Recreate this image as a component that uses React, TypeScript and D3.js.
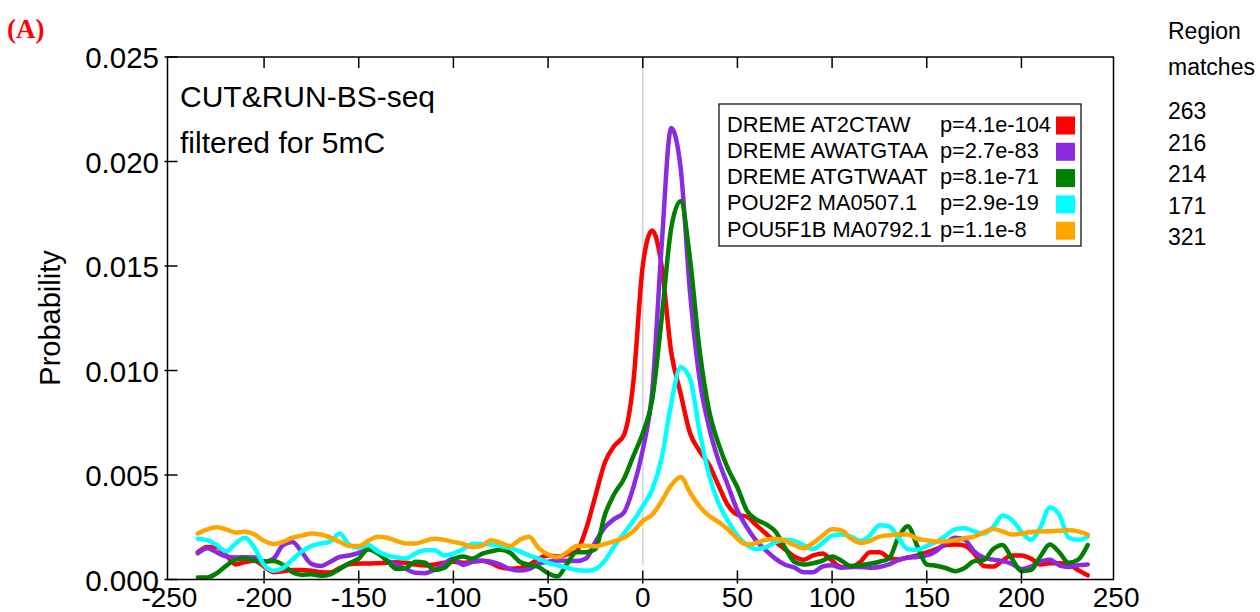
import React from 'react';
import * as d3 from 'd3';

// Distance from motif site (bp) at which each profile is sampled
const positions = [
  -235, -230, -225, -220, -215, -210, -205, -200, -195, -190,
  -185, -180, -175, -170, -165, -160, -155, -150, -145, -140,
  -135, -130, -125, -120, -115, -110, -105, -100, -95, -90,
  -85, -80, -75, -70, -65, -60, -55, -50, -45, -40,
  -35, -30, -25, -20, -15, -10, -5, 0, 5, 10,
  15, 20, 25, 30, 35, 40, 45, 50, 55, 60,
  65, 70, 75, 80, 85, 90, 95, 100, 105, 110,
  115, 120, 125, 130, 135, 140, 145, 150, 155, 160,
  165, 170, 175, 180, 185, 190, 195, 200, 205, 210,
  215, 220, 225, 230, 235,
];

const redSeries = [
  0.0013, 0.00155, 0.00155, 0.00115, 0.00072, 0.00083, 0.0009, 0.00062, 0.00035, 0.0004,
  0.00045, 0.00045, 0.00042, 0.00035, 0.00033, 0.00055, 0.00073, 0.00076, 0.00076, 0.00078,
  0.0008, 0.00082, 0.0008, 0.00072, 0.00067, 0.00072, 0.0008, 0.00085, 0.0008, 0.00085,
  0.0009, 0.00078, 0.00058, 0.00052, 0.00055, 0.0007, 0.001, 0.00115, 0.0011, 0.0012,
  0.00135, 0.0024, 0.004, 0.0056, 0.0064, 0.0069, 0.0094, 0.015, 0.0167, 0.015,
  0.0109, 0.0089, 0.007, 0.00615, 0.0055, 0.0045, 0.00355, 0.0031, 0.003, 0.0026,
  0.0022, 0.0018, 0.00145, 0.0011, 0.00095, 0.00115, 0.00125, 0.0009, 0.0006, 0.0006,
  0.00085, 0.0013, 0.0013, 0.00105, 0.00096, 0.00105, 0.00115, 0.0013, 0.00145, 0.00165,
  0.00168, 0.00162, 0.00125, 0.00065, 0.00062, 0.0009, 0.00115, 0.00115, 0.001, 0.00072,
  0.00078, 0.00078, 0.00072, 0.00045, 0.0002,
];

const purpleSeries = [
  0.00125, 0.0015, 0.0013, 0.0011, 0.00105, 0.00107, 0.00105, 0.00085, 0.001, 0.00165,
  0.0018, 0.0013, 0.00075, 0.00065, 0.00085, 0.00108, 0.00115, 0.00127, 0.00145, 0.0013,
  0.0009, 0.0007, 0.0005, 0.00032, 0.0003, 0.00048, 0.00075, 0.001, 0.0007, 0.00085,
  0.0009, 0.00085, 0.0007, 0.0005, 0.00043, 0.0005, 0.00075, 0.00085, 0.00091, 0.0009,
  0.00088, 0.001, 0.0018, 0.0025, 0.0029, 0.0032, 0.0044, 0.0062, 0.009, 0.016,
  0.0216, 0.0197, 0.0137, 0.0096, 0.0073, 0.0057, 0.0045, 0.0033, 0.0025, 0.00185,
  0.0014, 0.001, 0.00072, 0.00058, 0.00035, 0.00035, 0.00062, 0.00068, 0.00056, 0.0006,
  0.0006, 0.00056, 0.0006, 0.00072, 0.00093, 0.00105, 0.00108, 0.00115, 0.00136, 0.00175,
  0.002, 0.0019, 0.00135, 0.00105, 0.00095, 0.00088, 0.00075, 0.0005, 0.00062, 0.00085,
  0.00095, 0.00068, 0.0006, 0.00068, 0.00072,
];

const greenSeries = [
  0.0001, 0.0001, 0.0003, 0.00065, 0.00095, 0.001, 0.0009, 0.00086, 0.00088, 0.0007,
  0.00035, 0.00022, 0.00025, 0.00018, 0.00025, 0.0005, 0.00078, 0.001, 0.00145, 0.00125,
  0.0009, 0.0005, 0.00055, 0.00085, 0.0008, 0.00045, 0.00055, 0.00095, 0.0011, 0.001,
  0.00123, 0.00135, 0.00142, 0.00128, 0.00085, 0.0007, 0.0006, 0.0003, 0.00015, 0.00075,
  0.0013, 0.0013, 0.00145, 0.0031, 0.0041, 0.0048, 0.0059, 0.007, 0.0086, 0.0125,
  0.0168, 0.0181, 0.0153, 0.011, 0.0081, 0.0065, 0.0053, 0.0044, 0.0033, 0.00287,
  0.00265, 0.0023, 0.00155, 0.00085, 0.00072, 0.00078, 0.0009, 0.0011, 0.0009, 0.00065,
  0.00068, 0.00075, 0.00085, 0.001, 0.002, 0.00255, 0.0016, 0.00072, 0.00066, 0.00055,
  0.0004, 0.00055, 0.00088, 0.00092, 0.00145, 0.00165, 0.001, 0.0004, 0.00045, 0.0011,
  0.00167, 0.0013, 0.0008, 0.00095, 0.00165,
];

const cyanSeries = [
  0.00195, 0.00188, 0.00165, 0.00135, 0.00172, 0.002, 0.0015, 0.0007, 0.00042, 0.00055,
  0.00095, 0.00135, 0.0016, 0.00172, 0.00182, 0.0022, 0.00165, 0.00152, 0.00165, 0.00135,
  0.00115, 0.00105, 0.001, 0.00125, 0.0014, 0.0014, 0.00115, 0.00125, 0.00145, 0.0017,
  0.0017, 0.00168, 0.0016, 0.0015, 0.00135, 0.00115, 0.001, 0.0008, 0.00068, 0.00057,
  0.00045, 0.00042, 0.0005, 0.0009, 0.0016, 0.0022, 0.0028, 0.0035, 0.0043, 0.0058,
  0.0084, 0.01015, 0.0096, 0.0071, 0.005, 0.00365, 0.0028, 0.0021, 0.00165, 0.00145,
  0.00155, 0.00178, 0.0019, 0.00185, 0.00165, 0.00145, 0.00175, 0.0021, 0.00215, 0.00205,
  0.00185, 0.0021, 0.0026, 0.00255, 0.002, 0.00145, 0.00142, 0.0016, 0.0018, 0.0021,
  0.0024, 0.00245, 0.0023, 0.0022, 0.0025, 0.00305, 0.00285, 0.0023, 0.0019, 0.0025,
  0.00345, 0.0031, 0.002, 0.0019, 0.00205,
];

const orangeSeries = [
  0.0022, 0.0024, 0.0025, 0.0024, 0.00225, 0.00228, 0.00215, 0.00185, 0.0017, 0.0018,
  0.002, 0.0021, 0.0022, 0.00215, 0.002, 0.0018, 0.0016, 0.0016, 0.00185, 0.00205,
  0.002, 0.00185, 0.00172, 0.00172, 0.00185, 0.00195, 0.0019, 0.0018, 0.0017, 0.00155,
  0.0016, 0.00188, 0.00175, 0.0016, 0.0019, 0.00205, 0.0015, 0.0012, 0.00107, 0.0013,
  0.0016, 0.00162, 0.00158, 0.0017, 0.00182, 0.002, 0.0023, 0.0028, 0.0031, 0.00375,
  0.0045, 0.0049, 0.00416, 0.0035, 0.00305, 0.00275, 0.0024, 0.00195, 0.00167, 0.00175,
  0.0019, 0.00195, 0.00185, 0.00165, 0.0015, 0.00175, 0.0021, 0.0024, 0.00235, 0.00195,
  0.00175, 0.00185, 0.00205, 0.00212, 0.00215, 0.00215, 0.00195, 0.00188, 0.00182, 0.00183,
  0.00188, 0.00197, 0.00205, 0.00225, 0.00242, 0.0023, 0.00215, 0.0022, 0.00227, 0.0023,
  0.00231, 0.00233, 0.00237, 0.0023, 0.00215,
];

const legendLabels = [
  'DREME AT2CTAW',
  'DREME AWATGTAA',
  'DREME ATGTWAAT',
  'POU2F2 MA0507.1',
  'POU5F1B MA0792.1',
];
const legendPValues = ['p=4.1e-104', 'p=2.7e-83', 'p=8.1e-71', 'p=2.9e-19', 'p=1.1e-8'];
const legendColors = ['#ff0000', '#8a2be2', '#008000', '#00ffff', '#ffa500'];
const regionMatches = ['263', '216', '214', '171', '321'];

const xTicks = [-250, -200, -150, -100, -50, 0, 50, 100, 150, 200, 250];
const yTicks = [0, 0.005, 0.01, 0.015, 0.02, 0.025];
const yTickLabels = ['0.000', '0.005', '0.010', '0.015', '0.020', '0.025'];

const FONT = '"Liberation Sans", Arial, Helvetica, sans-serif';

export default function App() {
  const frame = { left: 167.5, right: 1113.5, top: 57, bottom: 579.5 };
  const x = d3.scaleLinear().domain([-250, 250]).range([169.4, 1116.1]);
  const y = d3.scaleLinear().domain([0, 0.025]).range([579.5, 57]);

  const line = d3
    .line<number>()
    .x((_, i) => x(positions[i]))
    .y((d) => y(d))
    .curve(d3.curveMonotoneX);

  const series = [redSeries, purpleSeries, greenSeries, cyanSeries, orangeSeries];

  return (
    <svg
      width={1260}
      height={612}
      style={{ position: 'absolute', left: 0, top: 0, fontFamily: FONT }}
    >
      <rect x={0} y={0} width={1260} height={612} fill="#ffffff" />

      <text x={7} y={38} fill="#ff0000" fontFamily='"Liberation Serif", "DejaVu Serif", serif' fontWeight="bold" fontSize={27}>
        (A)
      </text>

      {/* zero reference line */}
      <line x1={x(0)} x2={x(0)} y1={frame.top} y2={565} stroke="#d4d4d4" strokeWidth={1.5} />

      {/* profiles */}
      {series.map((s, i) => (
        <path
          key={i}
          d={line(s) || ''}
          fill="none"
          stroke={legendColors[i]}
          strokeWidth={4.5}
          strokeLinejoin="round"
          strokeLinecap="round"
        />
      ))}

      {/* frame */}
      <rect
        x={frame.left}
        y={frame.top}
        width={frame.right - frame.left}
        height={frame.bottom - frame.top}
        fill="none"
        stroke="#000"
        strokeWidth={1.5}
      />

      {/* y axis ticks and labels */}
      {yTicks.map((t, i) => (
        <g key={t}>
          <line x1={frame.left - 3} x2={frame.left + 10} y1={y(t)} y2={y(t)} stroke="#000" strokeWidth={1.5} />
          <text x={159} y={y(t) + 11} fontSize={29.5} textAnchor="end" fill="#000">
            {yTickLabels[i]}
          </text>
        </g>
      ))}

      {/* x axis ticks and labels */}
      {xTicks.map((t) => (
        <g key={t}>
          {t > -250 && t < 250 && (
            <>
              <line x1={x(t)} x2={x(t)} y1={frame.bottom - 9} y2={frame.bottom + 4} stroke="#000" strokeWidth={1.5} />
              <line x1={x(t)} x2={x(t)} y1={frame.top} y2={frame.top + 11} stroke="#000" strokeWidth={1.5} />
            </>
          )}
          <text x={x(t)} y={607} fontSize={28} textAnchor="middle" fill="#000">
            {String(t)}
          </text>
        </g>
      ))}

      {/* y axis title */}
      <text
        transform="translate(60,318) rotate(-90)"
        fontSize={29}
        textAnchor="middle"
        fill="#000"
      >
        Probability
      </text>

      {/* annotation */}
      <text x={180} y={107} fontSize={30} fill="#000">CUT&amp;RUN-BS-seq</text>
      <text x={180} y={153} fontSize={30} fill="#000">filtered for 5mC</text>

      {/* legend */}
      <rect x={719} y={104} width={362} height={142} fill="#fff" stroke="#000" strokeWidth={1.2} />
      {legendLabels.map((lab, i) => {
        const by = 131.5 + i * 26.3;
        return (
          <g key={lab}>
            <text x={727} y={by} fontSize={21.8} fill="#000">{lab}</text>
            <text x={940} y={by} fontSize={21.8} fill="#000">{legendPValues[i]}</text>
            <rect x={1056} y={by - 15} width={19} height={18} fill={legendColors[i]} />
          </g>
        );
      })}

      {/* region matches */}
      <text x={1168} y={39} fontSize={23} fill="#000">Region</text>
      <text x={1168} y={75} fontSize={23} fill="#000">matches</text>
      {regionMatches.map((m, i) => (
        <text key={i} x={1168} y={119 + i * 31.6} fontSize={23} fill="#000">{m}</text>
      ))}
    </svg>
  );
}
